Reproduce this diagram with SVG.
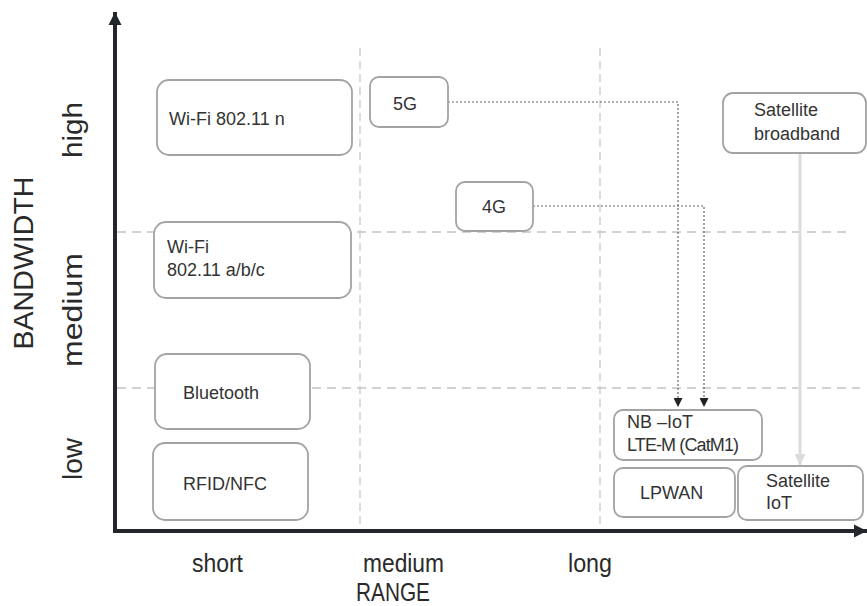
<svg xmlns="http://www.w3.org/2000/svg" width="867" height="606" viewBox="0 0 867 606">
<style>
.grid{stroke:#d2d2d2;stroke-width:1.8;stroke-dasharray:9 6;fill:none}
.gridv{stroke:#cdcdcd;stroke-width:1.4;stroke-dasharray:8 5;fill:none}
.box{fill:#fff;stroke:#a3a3a3;stroke-width:1.8}
.t{font-family:"Liberation Sans",Arial,sans-serif;fill:#333;font-size:18px}
.ax{font-family:"Liberation Sans",Arial,sans-serif;fill:#2a2a2a}
.dot{stroke:#666;stroke-width:1.2;stroke-dasharray:2 2;fill:none}
.axis{stroke:#23272b;stroke-width:4;fill:none}
</style>
<defs>
<marker id="ah" viewBox="0 0 10 10" refX="10" refY="5" markerWidth="9" markerHeight="9" markerUnits="userSpaceOnUse" orient="auto"><path d="M0,0 L10,5 L0,10 z" fill="#222"/></marker>
<marker id="ahl" viewBox="0 0 10 10" refX="10" refY="5" markerWidth="12" markerHeight="11" markerUnits="userSpaceOnUse" orient="auto"><path d="M0,0 L10,5 L0,10 z" fill="#dcdcdc"/></marker>
<marker id="axh" viewBox="0 0 10 10" refX="10" refY="5" markerWidth="13" markerHeight="14" markerUnits="userSpaceOnUse" orient="auto"><path d="M0,0 L10,5 L0,10 z" fill="#23272b"/></marker>
</defs>
<rect width="867" height="606" fill="#fff"/>
<g id="grid">
<line class="grid" x1="117" y1="232" x2="848" y2="232"/>
<line class="grid" x1="117" y1="388" x2="860" y2="388"/>
<line class="gridv" x1="360" y1="48" x2="360" y2="527"/>
<line class="gridv" x1="600" y1="48" x2="600" y2="527"/>
</g>
<g id="axes">
<line class="axis" x1="115" y1="533" x2="115" y2="12" marker-end="url(#axh)"/>
<line class="axis" x1="113" y1="531" x2="867" y2="531" marker-end="url(#axh)"/>
<text class="ax" font-size="28" transform="translate(33,263) rotate(-90)" text-anchor="middle" textLength="173" lengthAdjust="spacingAndGlyphs">BANDWIDTH</text>
<text class="ax" font-size="28" transform="translate(82,130) rotate(-90)" text-anchor="middle" textLength="56" lengthAdjust="spacingAndGlyphs">high</text>
<text class="ax" font-size="28" transform="translate(82,310) rotate(-90)" text-anchor="middle" textLength="114" lengthAdjust="spacingAndGlyphs">medium</text>
<text class="ax" font-size="28" transform="translate(82,459) rotate(-90)" text-anchor="middle" textLength="42" lengthAdjust="spacingAndGlyphs">low</text>
<text class="ax" font-size="26" x="192" y="572" textLength="51" lengthAdjust="spacingAndGlyphs">short</text>
<text class="ax" font-size="26" x="363" y="572" textLength="81" lengthAdjust="spacingAndGlyphs">medium</text>
<text class="ax" font-size="26" x="568" y="572" textLength="44" lengthAdjust="spacingAndGlyphs">long</text>
<text class="ax" font-size="26" x="356" y="601" textLength="74" lengthAdjust="spacingAndGlyphs">RANGE</text>
</g>
<g id="connectors">
<path class="dot" d="M448,102 H678 V407" marker-end="url(#ah)"/>
<path class="dot" d="M533,206 H704 V407" marker-end="url(#ah)"/>
<line x1="800" y1="153" x2="800" y2="465" stroke="#dcdcdc" stroke-width="3" marker-end="url(#ahl)"/>
</g>
<g id="wifi-n"><rect class="box" x="157" y="80" width="195" height="75" rx="12"/><text class="t" x="169" y="125">Wi-Fi 802.11 n</text></g>
<g id="wifi-abc"><rect class="box" x="154" y="222" width="197" height="76" rx="12"/><text class="t" x="167" y="253">Wi-Fi</text><text class="t" x="167" y="276">802.11 a/b/c</text></g>
<g id="bluetooth"><rect class="box" x="155" y="354" width="155" height="75" rx="12"/><text class="t" font-size="19" x="183" y="399">Bluetooth</text></g>
<g id="rfid"><rect class="box" x="153" y="443" width="155" height="77" rx="12"/><text class="t" x="183" y="490">RFID/NFC</text></g>
<g id="g5"><rect class="box" x="370" y="77" width="78" height="50" rx="9"/><text class="t" x="393" y="110">5G</text></g>
<g id="g4"><rect class="box" x="456" y="182" width="77" height="49" rx="9"/><text class="t" x="482" y="213">4G</text></g>
<g id="sat-bb"><rect class="box" x="723" y="93" width="143" height="60" rx="10"/><text class="t" font-size="20" x="754" y="116">Satellite</text><text class="t" font-size="20" x="754" y="140">broadband</text></g>
<g id="nbiot"><rect class="box" x="614" y="410" width="148" height="50" rx="9"/><text class="t" font-size="16.5" x="627" y="428">NB –IoT</text><text class="t" font-size="16.5" x="627" y="451" textLength="112">LTE-M (CatM1)</text></g>
<g id="lpwan"><rect class="box" x="614" y="468" width="121" height="49" rx="9"/><text class="t" x="640" y="499">LPWAN</text></g>
<g id="sat-iot"><rect class="box" x="738" y="466" width="125" height="54" rx="9"/><text class="t" font-size="20" x="766" y="487">Satellite</text><text class="t" font-size="20" x="766" y="509">IoT</text></g>
</svg>
